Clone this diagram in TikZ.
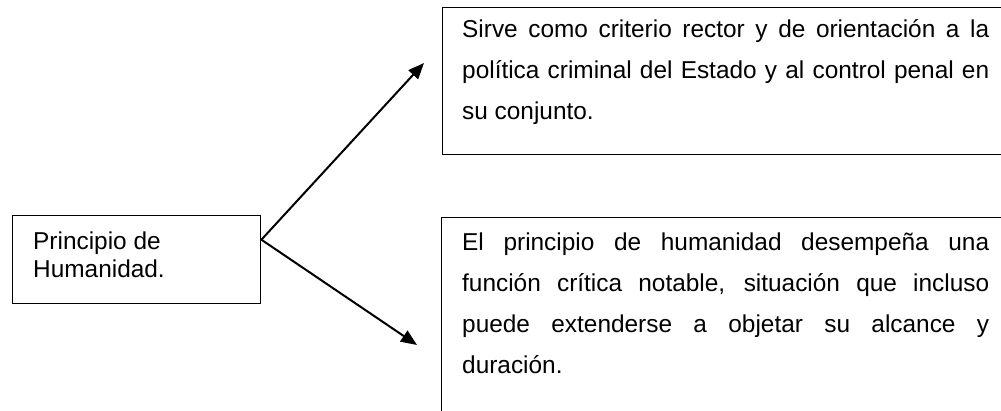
\documentclass[tikz,border=0pt]{standalone}
\usepackage{fontspec}
\setmainfont{Liberation Sans}
\usetikzlibrary{arrows.meta}
\begin{document}
\begin{tikzpicture}[x=1pt,y=-1pt,
  box/.style={draw=black, line width=1.4pt, rectangle, inner sep=0pt, anchor=north west},
  body/.style={anchor=north west, inner sep=0pt, text width=527pt, align=justify,
    font=\fontsize{24.4}{41}\selectfont},
  conn/.style={line width=2pt, -{Triangle[length=16pt,width=13pt]}}]
\useasboundingbox (0,0) rectangle (1001,411);
\clip (0,0) rectangle (1001,411);
% boxes
\node[box, minimum width=248pt, minimum height=88pt] (lbox) at (12,215) {};
\node[box, minimum width=580pt, minimum height=147pt] (tbox) at (442,7) {};
\node[box, minimum width=580pt, minimum height=240pt] (bbox) at (441,217) {};
% texts
\node[anchor=north west, inner sep=0pt, align=left,
  font=\fontsize{24.4}{28}\selectfont] (ltext) at (33,223)
  {\rule{0pt}{26pt}Principio de\\Humanidad.};
\node[body] (ttext) at (462,11)
  {\rule{0pt}{26pt}Sirve como criterio rector y de orientación a la\linebreak
   política criminal del Estado y al control penal en\linebreak
   su conjunto.};
\node[body] (btext) at (462,224)
  {\rule{0pt}{26pt}El principio de humanidad desempeña una\linebreak
   función crítica notable, situación que incluso\linebreak
   puede extenderse a objetar su alcance y\linebreak
   duración.};
% connectors
\coordinate (tipA) at (424,63);
\coordinate (tipB) at (417,345);
\draw[conn] ([yshift=20pt]lbox.east) -- (tipA);
\draw[conn] ([yshift=20pt]lbox.east) -- (tipB);
\end{tikzpicture}
\end{document}
